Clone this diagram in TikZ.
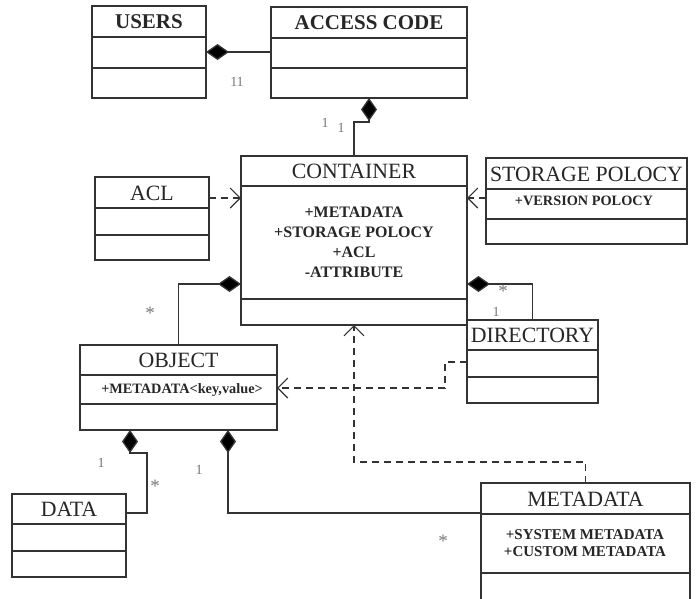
\documentclass[tikz,border=0pt]{standalone}
\usepackage{fontspec}
\setmainfont{Liberation Serif}
\usetikzlibrary{arrows.meta}
\definecolor{ln}{HTML}{333333}
\definecolor{lab}{HTML}{777777}
\tikzset{
  cls/.style={draw=ln, line width=1.3pt, inner sep=0pt, outer sep=0pt, fill=white},
  sepline/.style={draw=ln, line width=1.3pt},
  title/.style={text=black!85, font=\fontsize{21.8}{24}\selectfont, inner sep=0pt},
  btitle/.style={text=black!85, font=\bfseries\fontsize{21}{24}\selectfont, inner sep=0pt},
  attr/.style={text=black!85, font=\bfseries\fontsize{16}{20}\selectfont, inner sep=0pt, align=center},
  sattr/.style={text=black!85, font=\bfseries\fontsize{14.3}{16}\selectfont, inner sep=0pt, align=center},
  mult/.style={text=lab, font=\fontsize{14}{16}\selectfont, inner sep=0pt},
  star/.style={text=lab, font=\fontsize{19}{20}\selectfont, inner sep=0pt},
  comp/.style={draw=ln, line width=1.3pt, -{Diamond[length=23pt,width=16pt,fill=black]}},
  dep/.style={draw=ln, line width=1.3pt, dash pattern=on 7pt off 5pt, -{Straight Barb[length=10pt,width=20pt,line width=1.1pt]}},
}
\begin{document}
\begin{tikzpicture}[x=1pt,y=-1pt]
\useasboundingbox (0,0) rectangle (697,598);
% classes
\node[cls, minimum width=114pt, minimum height=92pt] (users) at (149,52) {};
\node[cls, minimum width=196pt, minimum height=91pt] (access) at (369,52.5) {};
\node[cls, minimum width=226pt, minimum height=169pt] (container) at (354,240.5) {};
\node[cls, minimum width=114pt, minimum height=83pt] (acl) at (152,218.5) {};
\node[cls, minimum width=201pt, minimum height=86pt] (sp) at (586.5,201) {};
\node[cls, minimum width=131pt, minimum height=83pt] (directory) at (532.5,361.5) {};
\node[cls, minimum width=197pt, minimum height=85pt] (object) at (178.5,387.5) {};
\node[cls, minimum width=114pt, minimum height=83pt] (data) at (69,535.5) {};
\node[cls, minimum width=209pt, minimum height=117pt] (metadata) at (585.5,541.5) {};
% separators
\draw[sepline] (users.west |- 0,37) -- (users.east |- 0,37);
\draw[sepline] (users.west |- 0,68) -- (users.east |- 0,68);
\draw[sepline] (access.west |- 0,38) -- (access.east |- 0,38);
\draw[sepline] (access.west |- 0,68) -- (access.east |- 0,68);
\draw[sepline] (container.west |- 0,186) -- (container.east |- 0,186);
\draw[sepline] (container.west |- 0,299) -- (container.east |- 0,299);
\draw[sepline] (acl.west |- 0,208) -- (acl.east |- 0,208);
\draw[sepline] (acl.west |- 0,235) -- (acl.east |- 0,235);
\draw[sepline] (sp.west |- 0,189) -- (sp.east |- 0,189);
\draw[sepline] (sp.west |- 0,219) -- (sp.east |- 0,219);
\draw[sepline] (directory.west |- 0,350) -- (directory.east |- 0,350);
\draw[sepline] (directory.west |- 0,377) -- (directory.east |- 0,377);
\draw[sepline] (object.west |- 0,375) -- (object.east |- 0,375);
\draw[sepline] (object.west |- 0,404) -- (object.east |- 0,404);
\draw[sepline] (data.west |- 0,524) -- (data.east |- 0,524);
\draw[sepline] (data.west |- 0,551) -- (data.east |- 0,551);
\draw[sepline] (metadata.west |- 0,514) -- (metadata.east |- 0,514);
\draw[sepline] (metadata.west |- 0,573) -- (metadata.east |- 0,573);
% titles
\node[btitle] (usersT) at (149,22) {USERS};
\node[btitle] (accessT) at (369,23) {ACCESS CODE};
\node[title] (containerT) at (354,171.5) {CONTAINER};
\node[title] (aclT) at (152,193) {ACL};
\node[title] (spT) at (586.5,174) {STORAGE POLOCY};
\node[title] (directoryT) at (532.5,335.5) {DIRECTORY};
\node[title] (objectT) at (178.5,360.5) {OBJECT};
\node[title] (dataT) at (69,509.5) {DATA};
\node[title] (metadataT) at (585.5,499) {METADATA};
% attributes
\node[attr] (containerA) at (354,242) {+METADATA\\+STORAGE POLOCY\\+ACL\\-ATTRIBUTE};
\node[sattr] (spA) at (584,201) {+VERSION POLOCY};
\node[sattr] (objectA) at (182,390) {+METADATA<key,value>};
\node[sattr, font=\bfseries\fontsize{15}{16.5}\selectfont] (metadataA) at (585,543) {+SYSTEM METADATA\\+CUSTOM METADATA};
% connectors
\draw[comp] (access.west |- 0,52) -- (users.east |- 0,52);
\draw[comp] (container.north) |- (access.south |- 0,122) -- (access.south);
\draw[dep] (acl.east |- 0,198) -- (container.west |- 0,198);
\draw[dep] (sp.west |- 0,198) -- (container.east |- 0,198);
\draw[comp] (object.north) |- (container.west |- 0,284);
\draw[comp] (directory.north) |- (container.east |- 0,284);
\draw[dep] (directory.west |- 0,362) -| (445,375) |- (object.east |- 0,388);
\draw[dep] (metadata.north) |- (container.south |- 0,462) -- (container.south);
\draw[comp] (data.east |- 0,513) -| (147,453) -| (object.south -| 130,0);
\draw[comp] (metadata.west |- 0,513) -| (object.south -| 228,0);
% multiplicities
\node[mult] (m1) at (237,82) {11};
\node[mult] (m2) at (325,123) {1};
\node[mult] (m3) at (341,128) {1};
\node[star] (m4) at (150,313) {*};
\node[star] (m5) at (503,291) {*};
\node[mult] (m6) at (496,312) {1};
\node[mult] (m7) at (101,463) {1};
\node[star] (m8) at (155,486) {*};
\node[mult] (m9) at (199,470) {1};
\node[star] (m10) at (443,541) {*};
\end{tikzpicture}
\end{document}
